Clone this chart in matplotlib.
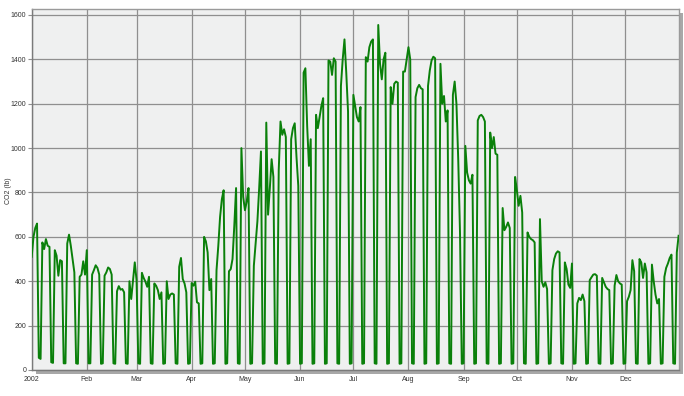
#!/usr/bin/env python

import matplotlib
matplotlib.use('Agg')
import matplotlib.pyplot as plt
import matplotlib.dates as mdates
from matplotlib.patches import Rectangle
import numpy as np
import pandas as pd

# daily CO2 (lb), one row per week (Mon..Sun); first row starts Tue Jan 1 2002
weeks = [
    [510, 600, 640, 660, 55, 50],
    [575, 545, 590, 560, 555, 35, 32],
    [540, 515, 425, 495, 490, 30, 30],
    [570, 610, 560, 500, 440, 30, 28],
    [420, 430, 490, 430, 540, 30, 30],
    [430, 450, 472, 460, 430, 28, 30],
    [425, 440, 462, 455, 430, 30, 28],
    [355, 378, 362, 365, 350, 30, 28],
    [400, 320, 400, 485, 405, 30, 28],
    [438, 415, 398, 375, 420, 30, 28],
    [390, 380, 360, 320, 350, 28, 30],
    [400, 320, 340, 345, 340, 30, 28],
    [465, 505, 410, 390, 350, 28, 30],
    [392, 380, 398, 305, 300, 28, 30],
    [600, 580, 530, 360, 410, 28, 30],
    [450, 560, 690, 770, 810, 28, 30],
    [445, 455, 500, 650, 820, 30, 28],
    [1000, 780, 720, 760, 820, 28, 30],
    [470, 570, 670, 820, 985, 28, 30],
    [1115, 700, 820, 950, 870, 30, 28],
    [900, 1120, 1060, 1085, 1050, 28, 30],
    [1040, 1090, 1112, 960, 830, 28, 30],
    [1340, 1360, 1100, 920, 1040, 28, 30],
    [1150, 1090, 1140, 1190, 1225, 28, 30],
    [1395, 1390, 1330, 1405, 1390, 30, 28],
    [1280, 1400, 1490, 1340, 1165, 28, 30],
    [1240, 1190, 1140, 1120, 1185, 28, 30],
    [1410, 1390, 1455, 1480, 1490, 30, 28],
    [1555, 1380, 1310, 1400, 1430, 28, 30],
    [1275, 1200, 1290, 1300, 1295, 28, 30],
    [1345, 1345, 1400, 1455, 1400, 30, 28],
    [1230, 1270, 1285, 1270, 1265, 28, 30],
    [1280, 1350, 1395, 1412, 1405, 28, 30],
    [1380, 1200, 1235, 1120, 1170, 30, 28],
    [1240, 1300, 1200, 950, 620, 28, 30],
    [1010, 890, 855, 840, 880, 28, 30],
    [1125, 1145, 1150, 1140, 1120, 30, 28],
    [1070, 1000, 1050, 975, 970, 28, 30],
    [730, 630, 645, 665, 640, 28, 30],
    [870, 810, 740, 785, 710, 30, 28],
    [620, 600, 590, 585, 575, 28, 30],
    [680, 400, 375, 395, 365, 28, 30],
    [450, 500, 525, 535, 530, 30, 28],
    [485, 455, 385, 370, 480, 28, 30],
    [300, 325, 315, 340, 310, 28, 30],
    [405, 418, 430, 432, 425, 30, 28],
    [415, 395, 375, 365, 360, 28, 30],
    [380, 428, 400, 390, 385, 28, 30],
    [310, 330, 360, 495, 445, 30, 28],
    [500, 485, 415, 480, 440, 28, 30],
    [475, 400, 340, 300, 320, 28, 30],
    [420, 460, 480, 505, 520, 30, 28],
    [530, 605],
]

month_labels = ['2002', 'Feb', 'Mar', 'Apr', 'May', 'Jun',
                'Jul', 'Aug', 'Sep', 'Oct', 'Nov', 'Dec']
y_ticks = [0, 200, 400, 600, 800, 1000, 1200, 1400, 1600]

co2 = [v for w in weeks for v in w]
days = pd.date_range('2002-01-01', periods=len(co2), freq='D')

plt.rcParams['font.family'] = ['Liberation Sans', 'DejaVu Sans']

fig = plt.figure(figsize=(6.84, 3.96), dpi=100)
ax = fig.add_axes([31.7 / 684, 1 - 370 / 396, (679.3 - 31.7) / 684, 361 / 396])
ax.set_zorder(1)

# drop shadow behind the plot box
pos = ax.get_position()
fig.patches.append(Rectangle((pos.x0 + 4 / 684, pos.y0 - 4 / 396), pos.width, pos.height,
                             transform=fig.transFigure, facecolor='#a8a8a8',
                             edgecolor='none', zorder=-1))

ax.set_facecolor('#eff0f0')
ax.plot(days, co2, color='#0a800a', linewidth=1.4, zorder=3)

start = mdates.date2num(pd.Timestamp('2002-01-01'))
ax.set_xlim(start, start + 364.4)
ax.set_ylim(0, 1627)

month_starts = pd.date_range('2002-01-01', periods=12, freq='MS')
ax.set_xticks(month_starts)
ax.set_xticklabels(month_labels)
ax.set_yticks(y_ticks)
ax.set_yticklabels([str(t) for t in y_ticks])

ax.grid(True, color='#8f8f8f', linewidth=0.9)
ax.set_axisbelow(True)
ax.tick_params(axis='x', length=0, pad=4, labelsize=5, labelcolor='#333333')
ax.tick_params(axis='y', length=3, width=0.8, color='#8f8f8f', pad=1,
               labelsize=5, labelcolor='#333333')

for side in ['top', 'right', 'bottom', 'left']:
    ax.spines[side].set_color('#9a9a9a')
    ax.spines[side].set_linewidth(1.0)
ax.spines['left'].set_color('#7a7a7a')
ax.spines['bottom'].set_color('#7a7a7a')

fig.text(5 / 684, 1 - 191 / 396, 'CO2 (lb)', rotation=90, fontsize=5,
         color='#333333', ha='left', va='center')

plt.savefig('out.png', dpi=100)
plt.close(fig)
